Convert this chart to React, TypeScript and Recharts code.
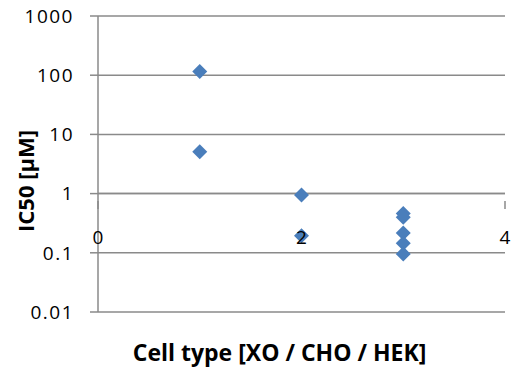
import React from "react";
import {
  ScatterChart,
  Scatter,
  XAxis,
  YAxis,
  CartesianGrid,
  ReferenceLine,
} from "recharts";

// Cell types are coded as 1 = XO, 2 = CHO, 3 = HEK
const cellType = [1, 1, 2, 2, 3, 3, 3, 3, 3];
const ic50 = [115, 5.1, 0.95, 0.195, 0.46, 0.4, 0.215, 0.145, 0.095];

const xTicks = [0, 2, 4];
const yTicks = [0.01, 0.1, 1, 10, 100, 1000];
const xDomain: [number, number] = [0, 4];

const points = cellType.map((x, i) => ({ x, y: ic50[i] }));

const FONT = "'Open Sans', 'Noto Sans', sans-serif";
const GRID = "#8a8a8a";
const MARK = "#4a7ebb";

// distance from the bottom of the plot up to the y = 1 line
const AXIS_LIFT = 119;

const Diamond = (props: any) => {
  const { cx, cy } = props;
  const r = 7.5;
  return (
    <polygon
      points={`${cx},${cy - r} ${cx + r},${cy} ${cx},${cy + r} ${cx - r},${cy}`}
      fill={MARK}
    />
  );
};

const XTick = (props: any) => {
  const { x, y, payload } = props;
  const axisY = y - AXIS_LIFT;
  const atEnd = payload.value === xDomain[0] || payload.value === xDomain[1];
  return (
    <g>
      {atEnd && (
        <line x1={x} y1={axisY} x2={x} y2={axisY + 8} stroke={GRID} strokeWidth={1.5} />
      )}
      <text
        x={x}
        y={axisY + 43}
        textAnchor="middle"
        fontFamily={FONT}
        fontSize={19}
        fill="#000"
      >
        {payload.value}
      </text>
    </g>
  );
};

const YTitle = (props: any) => {
  const { viewBox } = props;
  const cx = 25;
  const cy = viewBox.y + 165;
  return (
    <text
      x={cx}
      y={cy}
      transform={`rotate(-90, ${cx}, ${cy})`}
      textAnchor="middle"
      dominantBaseline="central"
      fontFamily={FONT}
      fontSize={22}
      fontWeight={700}
      fill="#000"
    >
      IC50 [µM]
    </text>
  );
};

const XTitle = (props: any) => {
  const { viewBox } = props;
  const cx = viewBox.x + viewBox.width / 2 - 22;
  const cy = viewBox.y + viewBox.height + 10;
  return (
    <text
      x={cx}
      y={cy}
      textAnchor="middle"
      dominantBaseline="central"
      fontFamily={FONT}
      fontSize={23}
      fontWeight={700}
      fill="#000"
    >
      Cell type [XO / CHO / HEK]
    </text>
  );
};

export default function App() {
  return (
    <div style={{ position: "absolute", left: 0, top: 0, background: "#fff" }}>
      <ScatterChart
        width={519}
        height={369}
        margin={{ top: 16, right: 14, bottom: 27, left: 0 }}
      >
        <CartesianGrid vertical={false} stroke={GRID} strokeWidth={1.5} />
        <XAxis
          type="number"
          dataKey="x"
          domain={xDomain}
          ticks={xTicks}
          axisLine={false}
          tickLine={false}
          tick={<XTick />}
          height={30}
          interval={0}
          label={<XTitle />}
        />
        <YAxis
          type="number"
          dataKey="y"
          scale="log"
          domain={[0.01, 1000]}
          ticks={yTicks}
          allowDataOverflow
          width={98}
          interval={0}
          axisLine={{ stroke: GRID, strokeWidth: 1.5 }}
          tickLine={{ stroke: GRID, strokeWidth: 1.5 }}
          tickSize={8}
          tickMargin={16}
          tick={{ fontFamily: FONT, fontSize: 19, fill: "#000", letterSpacing: 1.5 }}
          label={<YTitle />}
        />
        <ReferenceLine y={1} stroke={GRID} strokeWidth={1.5} />
        <Scatter data={points} shape={<Diamond />} isAnimationActive={false} />
      </ScatterChart>
    </div>
  );
}
